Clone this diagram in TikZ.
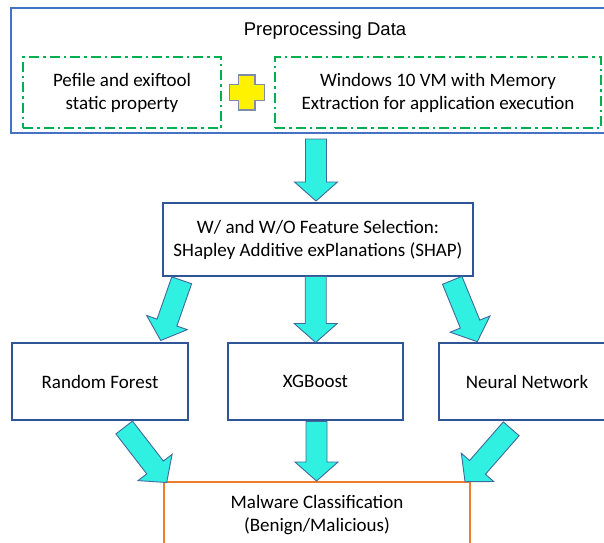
\documentclass[tikz,border=0pt]{standalone}
\usepackage{fontspec}
\setmainfont{Carlito}
\newfontfamily\arialfont{Liberation Sans}
\usetikzlibrary{calc}
\definecolor{topblue}{HTML}{4472C4}
\definecolor{boxblue}{HTML}{2F5597}
\definecolor{dgreen}{HTML}{00B050}
\definecolor{afill}{HTML}{30F0E2}
\definecolor{aline}{HTML}{41699E}
\definecolor{orangeline}{HTML}{ED7D31}
\definecolor{plusline}{HTML}{7F8CA8}
\tikzset{
  txt/.style={font=\fontsize{19}{23}\selectfont, align=center, text=black},
  bluebox/.style={txt, draw=boxblue, line width=1.6pt, fill=white, inner sep=0pt},
  greenbox/.style={txt, draw=dgreen, line width=2pt, dash pattern=on 10pt off 4pt on 2.5pt off 4pt, inner sep=0pt},
  barrow/.style={draw=aline, fill=afill, line width=0.9pt, line join=miter,
    to path={let \p1=(\tikztostart), \p2=(\tikztotarget),
      \n1={atan2(\y2-\y1,\x2-\x1)}, \n2={veclen(\x2-\x1,\y2-\y1)} in
      ($(\p1)+(\n1+90:10.5pt)$)
      -- ($(\p1)+(\n1:\n2-19pt)+(\n1+90:10.5pt)$)
      -- ($(\p1)+(\n1:\n2-19pt)+(\n1+90:21.5pt)$)
      -- (\p2)
      -- ($(\p1)+(\n1:\n2-19pt)+(\n1-90:21.5pt)$)
      -- ($(\p1)+(\n1:\n2-19pt)+(\n1-90:10.5pt)$)
      -- ($(\p1)+(\n1-90:10.5pt)$) -- cycle}}
}
\begin{document}
\begin{tikzpicture}[x=1pt,y=-1pt]
\useasboundingbox (0,0) rectangle (604,542);
\clip (0,0) rectangle (604,542);
\fill[white] (0,0) rectangle (604,542);

% preprocessing container
\node[draw=topblue, line width=2pt, minimum width=601pt, minimum height=125pt, inner sep=0pt] (pre) at (311.5,70.5) {};
\node[font=\arialfont\fontsize{18.5}{22}\selectfont, anchor=base] (title) at (325,35) {Preprocessing Data};
\node[greenbox, minimum width=198pt, minimum height=71pt] (static) at (122,92.5) {Pefile and exiftool\\static property};
\node[greenbox, minimum width=326pt, minimum height=71pt] (dyn) at (438,92.5) {Windows 10 VM with Memory\\Extraction for application execution};
\coordinate (plus) at (246.7,92.5);
\draw[fill=yellow, draw=plusline, line width=1.3pt, line join=miter]
  ($(plus)+(-8.25,-17.5)$) -- ($(plus)+(8.25,-17.5)$) -- ($(plus)+(8.25,-8.25)$) -- ($(plus)+(17.5,-8.25)$)
  -- ($(plus)+(17.5,8.25)$) -- ($(plus)+(8.25,8.25)$) -- ($(plus)+(8.25,17.5)$) -- ($(plus)+(-8.25,17.5)$)
  -- ($(plus)+(-8.25,8.25)$) -- ($(plus)+(-17.5,8.25)$) -- ($(plus)+(-17.5,-8.25)$) -- ($(plus)+(-8.25,-8.25)$) -- cycle;

% feature selection
\node[bluebox, minimum width=310pt, minimum height=73pt] (shap) at (318,239.5) {W/ and W/O Feature Selection:\\SHapley Additive exPlanations (SHAP)};

% models
\node[bluebox, minimum width=176pt, minimum height=77pt] (rf) at (100,381.5) {Random Forest};
\node[bluebox, minimum width=175pt, minimum height=77pt] (xgb) at (315.5,381.5) {XGBoost};
\node[bluebox, minimum width=176pt, minimum height=77pt] (nn) at (527,381.5) {Neural Network};

% classification
\node[txt, draw=orangeline, line width=2pt, minimum width=306pt, minimum height=66pt, inner sep=0pt] (mal) at (317,515) {Malware Classification\\(Benign/Malicious)};

% arrow end points
\coordinate (a0s) at (316,139);   \coordinate (a0e) at (316,201);
\coordinate (a1s) at (181.7,280.3); \coordinate (a1e) at (160.7,340.5);
\coordinate (a2s) at (315.7,276.5); \coordinate (a2e) at (315.7,342.5);
\coordinate (a3s) at (452.2,280.3); \coordinate (a3e) at (477.3,341.7);
\coordinate (a4s) at (124.2,427.5); \coordinate (a4e) at (166.7,482.5);
\coordinate (a5s) at (316.5,421.5); \coordinate (a5e) at (316.5,481);
\coordinate (a6s) at (511.2,428.8); \coordinate (a6e) at (465,481.7);

\draw[barrow] (a0s) to (a0e);
\draw[barrow] (a1s) to (a1e);
\draw[barrow] (a2s) to (a2e);
\draw[barrow] (a3s) to (a3e);
\draw[barrow] (a4s) to (a4e);
\draw[barrow] (a5s) to (a5e);
\draw[barrow] (a6s) to (a6e);
\end{tikzpicture}
\end{document}
